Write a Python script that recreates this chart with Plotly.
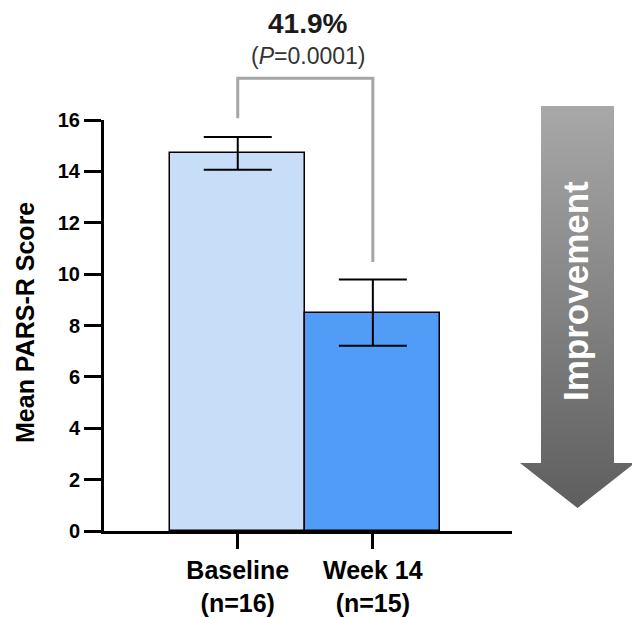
import plotly.graph_objects as go

# ---- data ----
categories = ["Baseline<br>(n=16)", "Week 14<br>(n=15)"]
means = [14.7, 8.5]
errors = [0.64, 1.29]
bar_colors = ["#c8ddf7", "#519cf7"]
y_ticks = [0, 2, 4, 6, 8, 10, 12, 14, 16]
change_label = "41.9%"
p_label = "(<i>P</i>=0.0001)"
bracket_y = [16.07, 17.63, 17.63, 10.47]

W, H = 632, 617
FONT = "Liberation Sans, Arial, sans-serif"

# pixel geometry of the plot area
px_left, px_right = 104, 512
px_top, px_bottom = 120, 531
y_max = 16
unit_px = (px_bottom - px_top) / y_max
y2_max = px_bottom / unit_px  # same scale, extends to top of figure

fig = go.Figure()

fig.add_trace(go.Bar(
    x=categories, y=means,
    marker=dict(color=bar_colors, line=dict(color="black", width=1.5)),
    error_y=dict(type="data", array=errors, visible=True, color="black",
                 thickness=2, width=34),
    width=1.0, showlegend=False, hoverinfo="skip",
))

# bracket above bars (same scale axis that extends to the top of the figure)
fig.add_trace(go.Scatter(
    x=[categories[0], categories[0], categories[1], categories[1]],
    y=bracket_y, mode="lines", line=dict(color="#a6a6a6", width=3),
    xaxis="x", yaxis="y2", showlegend=False, hoverinfo="skip",
))

# improvement arrow (decorative, pixel overlay axes)
sx0, sx1 = 541, 614
hx0, hx1 = 520, 635
top, neck, tip = 106, 463, 508
cx = (sx0 + sx1) / 2
fig.add_trace(go.Scatter(
    x=[sx0, sx1, sx1, hx1, cx, hx0, sx0, sx0],
    y=[top, top, neck, neck, tip, neck, neck, top],
    mode="lines", line=dict(width=0), fill="toself",
    fillgradient=dict(type="vertical",
                      colorscale=[[0, "#a8a8a8"], [1, "#5e5e5e"]],
                      start=top, stop=tip),
    xaxis="x3", yaxis="y3", showlegend=False, hoverinfo="skip",
))

fig.update_layout(
    width=W, height=H,
    margin=dict(l=0, r=0, t=0, b=0, autoexpand=False),
    paper_bgcolor="white", plot_bgcolor="rgba(0,0,0,0)",
    bargap=0,
    font=dict(family=FONT, color="black"),
    xaxis=dict(
        domain=[px_left / W, px_right / W],
        type="category",
        range=[-0.99, 2.03],
        automargin=False,
        showline=True, linecolor="black", linewidth=3,
        ticks="outside", ticklen=15, tickwidth=3, tickcolor="black",
        tickfont=dict(size=25, family=FONT, color="black", weight="bold"),
        showgrid=False, zeroline=False, fixedrange=True,
    ),
    yaxis=dict(
        domain=[(H - px_bottom) / H, (H - px_top) / H],
        range=[0, y_max],
        tickvals=y_ticks,
        automargin=False,
        showline=True, linecolor="black", linewidth=3,
        ticks="outside", ticklen=17, tickwidth=3, tickcolor="black",
        tickfont=dict(size=20, family=FONT, color="black", weight="bold"),
        showgrid=False, zeroline=False, fixedrange=True,
    ),
    yaxis2=dict(
        domain=[(H - px_bottom) / H, 1.0], automargin=False,
        range=[0, y2_max], anchor="x", visible=False, fixedrange=True,
    ),
    xaxis3=dict(domain=[0, 1], range=[0, W], visible=False, anchor="y3",
                automargin=False, fixedrange=True),
    yaxis3=dict(domain=[0, 1], range=[H, 0], visible=False, anchor="x3",
                automargin=False, fixedrange=True),
    annotations=[
        dict(text="Mean PARS-R Score", textangle=-90, x=25 / W,
             y=1 - 323 / H, xref="paper", yref="paper", showarrow=False,
             xanchor="center", yanchor="middle",
             font=dict(size=25, family=FONT, color="black", weight="bold")),
        dict(text=change_label, x=307.5 / W, y=1 - 24 / H, xref="paper",
             yref="paper", showarrow=False, xanchor="center", yanchor="middle",
             font=dict(size=28, family=FONT, color="#1a1a1a", weight="bold")),
        dict(text=p_label, x=308 / W, y=1 - 56 / H, xref="paper",
             yref="paper", showarrow=False, xanchor="center", yanchor="middle",
             font=dict(size=23, family=FONT, color="#333333")),
        dict(text="Improvement", textangle=-90, x=575 / W, y=1 - 291 / H,
             xref="paper", yref="paper", showarrow=False,
             xanchor="center", yanchor="middle",
             font=dict(size=35, family=FONT, color="white", weight="bold")),
    ],
)

fig.write_html("out.html", config={"displayModeBar": False})
